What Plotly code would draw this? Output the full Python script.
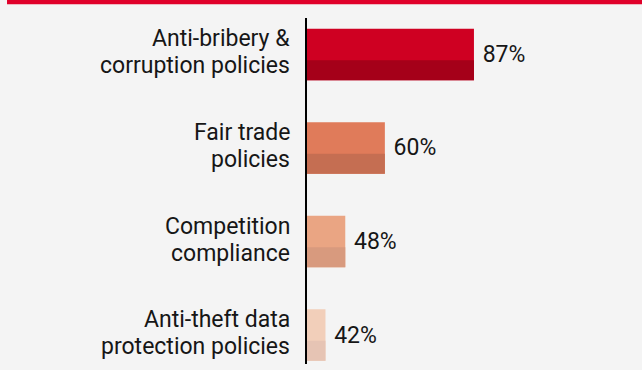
import plotly.graph_objects as go

categories = ["Anti-bribery &<br>corruption policies", "Fair trade<br>policies",
              "Competition<br>compliance", "Anti-theft data<br>protection policies"]
values = [87, 60, 48, 42]
top_colors = ["#cf0022", "#e07b5a", "#eaa583", "#f2cfba"]
bottom_colors = ["#a50019", "#c56e52", "#d89a7e", "#e6c4b4"]

pos = list(range(len(categories)))
FONT = "Roboto"
TXT = "#161616"

fig = go.Figure()
fig.add_trace(go.Bar(
    x=values, y=pos, orientation="h", width=0.551,
    marker=dict(color=top_colors, line=dict(width=0)),
    text=[f" {v}%" for v in values], textposition="outside",
    textfont=dict(family=FONT, size=23, color=TXT),
    cliponaxis=False, hoverinfo="skip",
))
fig.add_trace(go.Bar(
    x=values, y=pos, orientation="h", width=0.214, offset=0.0615,
    marker=dict(color=bottom_colors, line=dict(width=0)),
    hoverinfo="skip",
))

annotations = []
for p, cat in zip(pos, categories):
    lines = cat.split("<br>")
    for i, line in enumerate(lines):
        annotations.append(dict(
            xref="paper", yref="y", x=0, y=p, xanchor="right", yanchor="middle",
            xshift=-15, yshift=15.5 - 27 * i, text=line, showarrow=False,
            font=dict(family=FONT, size=23, color=TXT),
        ))

fig.update_layout(
    width=642, height=370,
    margin=dict(l=307, r=10, t=18, b=6),
    paper_bgcolor="#f4f4f4", plot_bgcolor="#f4f4f4",
    barmode="overlay", showlegend=False,
    font=dict(family=FONT, size=23, color=TXT),
    annotations=annotations,
    shapes=[dict(type="rect", xref="paper", yref="paper",
                 x0=-0.923, x1=1.05, y0=1.040, y1=1.08,
                 fillcolor="#e0002a", line=dict(width=0), layer="above")],
)
fig.update_xaxes(range=[36.4, 134.9], visible=False, showgrid=False, zeroline=False)
fig.update_yaxes(range=[3.31, -0.39], tickvals=pos, showticklabels=False,
                 showline=True, linecolor="#000000", linewidth=2,
                 showgrid=False, zeroline=False, ticks="")

fig.write_html("out.html")
